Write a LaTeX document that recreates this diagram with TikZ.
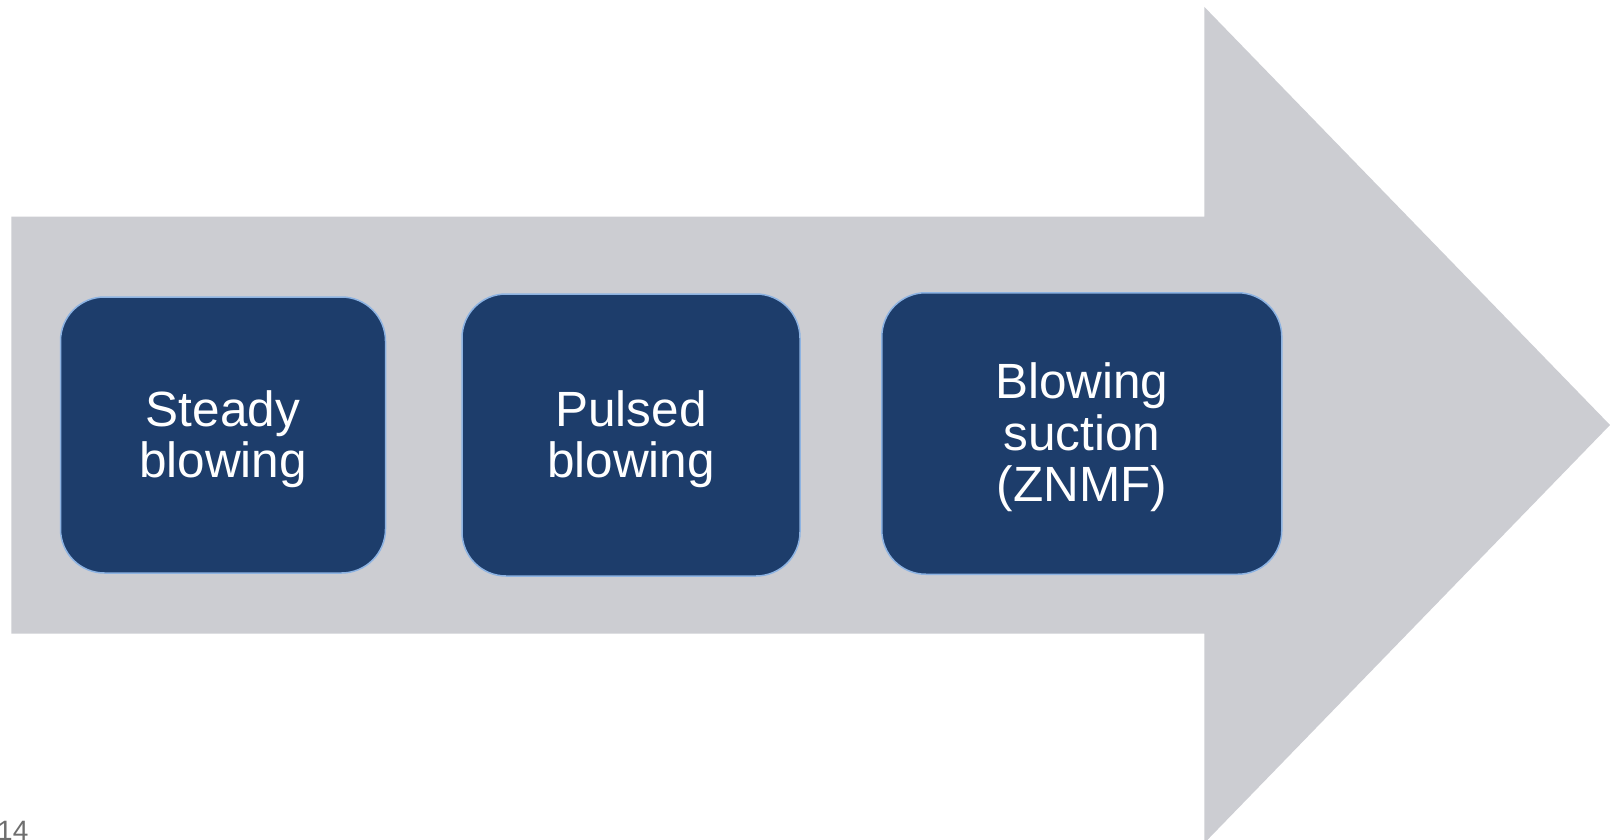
\documentclass[tikz,border=0pt]{standalone}
\usepackage{fontspec}
\setmainfont{Liberation Sans}
\definecolor{arrowgray}{HTML}{CCCDD2}
\definecolor{boxblue}{HTML}{1D3D6B}
\definecolor{boxedge}{HTML}{8DB3E2}
\definecolor{numgray}{HTML}{6E6E6E}
\begin{document}
\begin{tikzpicture}[x=1pt,y=-1pt,
  stagebox/.style={draw=boxedge, line width=1.5pt, fill=boxblue, rounded corners=44pt,
    inner sep=0pt},
  stagetext/.style={text=white, align=center, inner sep=0pt, yshift=-4pt,
    font=\fontsize{49.5}{51.5}\selectfont}]
\useasboundingbox[fill=white] (0,0) rectangle (1610,840);
\begin{scope}
\clip (0,0) rectangle (1610,840);
\fill[arrowgray] (11.3,216.7) -- (1204.4,216.7) -- (1204.4,7) -- (1610,425)
  -- (1204.4,843) -- (1204.4,633.5) -- (11.3,633.5) -- cycle;
\end{scope}
\node[stagebox, minimum width=325pt, minimum height=276pt] (s1) at (223,435) {};
\node[stagebox, minimum width=338pt, minimum height=282pt] (s2) at (631,435) {};
\node[stagebox, minimum width=400pt, minimum height=281.5pt] (s3) at (1081.8,433.5) {};
\node[stagetext] (t1) at (s1.center) {Steady\\blowing};
\node[stagetext] (t2) at (s2.center) {Pulsed\\blowing};
\node[stagetext] (t3) at (s3.center) {Blowing\\suction\\(ZNMF)};
\node[anchor=base west, inner sep=0pt, text=numgray, font=\fontsize{28}{30}\selectfont] (pg) at (-3,840) {14};
\end{tikzpicture}
\end{document}
